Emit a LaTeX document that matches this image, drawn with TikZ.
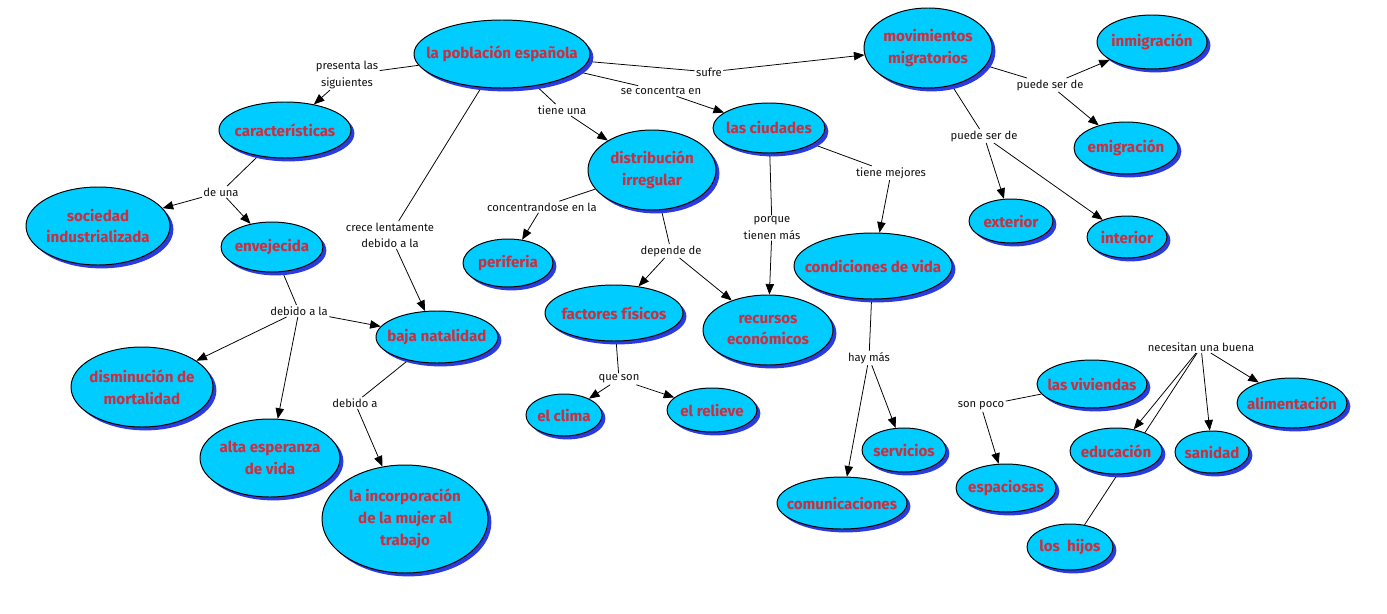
\documentclass[tikz,border=0pt]{standalone}
\usepackage{fontspec}
\setmainfont{Fira Sans}
\usetikzlibrary{shapes.geometric,arrows.meta,shadows,backgrounds}
\definecolor{ConceptCyan}{HTML}{00CCFF}
\definecolor{ConceptShadow}{HTML}{2B3BE0}
\definecolor{ConceptRed}{HTML}{D02C3C}
\definecolor{LinkInk}{HTML}{111111}
\tikzset{oval/.style n args={2}{minimum width=#1mm, minimum height=#2mm}}

\begin{document}
\begin{tikzpicture}[x=0.05cm, y=-0.05cm,
  concept/.style={ellipse, draw=black, line width=1.4pt, fill=ConceptCyan, text=ConceptRed,
    font=\fontsize{21.5}{31}\selectfont\bfseries, align=center, inner sep=-40pt,
    drop shadow={shadow xshift=1.7mm, shadow yshift=-1.7mm, fill=ConceptShadow, opacity=1}},
  linkword/.style={font=\fontsize{16}{23}\selectfont, text=LinkInk, align=center, inner sep=2pt},
  conn/.style={line width=1.1pt},
  arr/.style={conn, -{Triangle[length=15pt,width=12pt]}}]

\useasboundingbox (0,0) rectangle (1387,614);

% concepts
\node[concept, oval={88}{34}] (poblacion) at (502,54) {la población española};
\node[concept, oval={66}{28}] (caracter) at (285,130) {características};
\node[concept, oval={72}{39}] (sociedad) at (98,226) {sociedad\\industrializada};
\node[concept, oval={51}{25}] (envejecida) at (272,247) {envejecida};
\node[concept, oval={61}{26}] (natalidad) at (437,337) {baja natalidad};
\node[concept, oval={71}{40}] (mortalidad) at (142,387) {disminución de\\mortalidad};
\node[concept, oval={70}{39}] (esperanza) at (270,458) {alta esperanza\\de vida};
\node[concept, oval={83}{54}] (mujer) at (405,519) {la incorporación\\de la mujer al\\trabajo};
\node[concept, oval={64}{40}] (distribucion) at (652,170) {distribución\\irregular};
\node[concept, oval={56}{25}] (ciudades) at (769,128) {las ciudades};
\node[concept, oval={64}{40}] (movimientos) at (928,48) {movimientos\\migratorios};
\node[concept, oval={55}{27}] (inmigracion) at (1152,42) {inmigración};
\node[concept, oval={52}{26}] (emigracion) at (1126,148) {emigración};
\node[concept, oval={42}{22}] (exterior) at (1011,221) {exterior};
\node[concept, oval={40}{21}] (interior) at (1127,237) {interior};
\node[concept, oval={45}{24}] (periferia) at (508,263) {periferia};
\node[concept, oval={69}{28}] (factores) at (614,313) {factores físicos};
\node[concept, oval={65}{35}] (recursos) at (768,330) {recursos\\económicos};
\node[concept, oval={38}{21}] (clima) at (564,415) {el clima};
\node[concept, oval={45}{22}] (relieve) at (712,410) {el relieve};
\node[concept, oval={79}{33}] (condiciones) at (873,266) {condiciones de vida};
\node[concept, oval={42}{22}] (servicios) at (904,450) {servicios};
\node[concept, oval={65}{26}] (comunicaciones) at (842,503) {comunicaciones};
\node[concept, oval={50}{24}] (espaciosas) at (1006,488) {espaciosas};
\node[concept, oval={55}{24}] (viviendas) at (1092,384) {las viviendas};
\node[concept, oval={55}{25}] (alimentacion) at (1292,403) {alimentación};
\node[concept, oval={46}{23}] (educacion) at (1116,451) {educación};
\node[concept, oval={37}{21}] (sanidad) at (1212,452) {sanidad};
\node[concept, oval={43}{23}] (hijos) at (1070,547) {los\ \ hijos};

% linking words
\node[linkword] (lPresenta) at (347,75) {presenta las\\siguientes};
\node[linkword] (lDeUna) at (221,192) {de una};
\node[linkword] (lDebidoLa) at (299,311) {debido a la};
\node[linkword] (lDebidoA) at (355,403) {debido a};
\node[linkword] (lCrece) at (390,235) {crece lentamente\\debido a la};
\node[linkword] (lTiene) at (562,110) {tiene una};
\node[linkword] (lConcentra) at (661,91) {se concentra en};
\node[linkword] (lSufre) at (709,72) {sufre};
\node[linkword] (lPeriferia) at (542,207) {concentrandose en la};
\node[linkword] (lDepende) at (671,251) {depende de};
\node[linkword] (lPorque) at (772,228) {porque\\tienen más};
\node[linkword] (lMejores) at (891,173) {tiene mejores};
\node[linkword] (lPuedeA) at (1050,85) {puede ser de};
\node[linkword] (lPuedeB) at (984,136) {puede ser de};
\node[linkword] (lQueSon) at (619,379) {que son};
\node[linkword] (lHayMas) at (869,358) {hay más};
\node[linkword] (lSonPoco) at (981,406) {son poco};
\node[linkword] (lNecesitan) at (1201,347) {necesitan una buena};

% connectors, behind the concepts
\begin{pgfonlayer}{background}
\fill[white] (0,0) rectangle (1387,614);
\draw[conn] (poblacion) -- (lPresenta);
\draw[arr] (lPresenta) -- (caracter);
\draw[conn] (caracter) -- (lDeUna);
\draw[arr] (lDeUna) -- (sociedad);
\draw[arr] (lDeUna) -- (envejecida);
\draw[conn] (envejecida) -- (lDebidoLa);
\draw[arr] (lDebidoLa) -- (mortalidad);
\draw[arr] (lDebidoLa) -- (esperanza);
\draw[arr] (lDebidoLa) -- (natalidad);
\draw[conn] (poblacion) -- (lCrece);
\draw[arr] (lCrece) -- (natalidad);
\draw[conn] (natalidad) -- (lDebidoA);
\draw[arr] (lDebidoA) -- (mujer);
\draw[conn] (poblacion) -- (lTiene);
\draw[arr] (lTiene) -- (distribucion);
\draw[conn] (poblacion) -- (lConcentra);
\draw[arr] (lConcentra) -- (ciudades);
\draw[conn] (poblacion) -- (lSufre);
\draw[arr] (lSufre) -- (movimientos);
\draw[conn] (distribucion) -- (lPeriferia);
\draw[arr] (lPeriferia) -- (periferia);
\draw[conn] (distribucion) -- (lDepende);
\draw[arr] (lDepende) -- (factores);
\draw[arr] (lDepende) -- (recursos);
\draw[conn] (factores) -- (lQueSon);
\draw[arr] (lQueSon) -- (clima);
\draw[arr] (lQueSon) -- (relieve);
\draw[conn] (ciudades) -- (lPorque);
\draw[arr] (lPorque) -- (recursos);
\draw[conn] (ciudades) -- (lMejores);
\draw[arr] (lMejores) -- (condiciones);
\draw[conn] (condiciones) -- (lHayMas);
\draw[arr] (lHayMas) -- (servicios);
\draw[arr] (lHayMas) -- (comunicaciones);
\draw[conn] (movimientos) -- (lPuedeA);
\draw[arr] (lPuedeA) -- (inmigracion);
\draw[arr] (lPuedeA) -- (emigracion);
\draw[conn] (movimientos) -- (lPuedeB);
\draw[arr] (lPuedeB) -- (exterior);
\draw[arr] (lPuedeB) -- (interior);
\draw[conn] (viviendas) -- (lSonPoco);
\draw[arr] (lSonPoco) -- (espaciosas);
\draw[conn] (hijos) -- (lNecesitan);
\draw[arr] (lNecesitan) -- (educacion);
\draw[arr] (lNecesitan) -- (sanidad);
\draw[arr] (lNecesitan) -- (alimentacion);
\end{pgfonlayer}
\end{tikzpicture}
\end{document}
